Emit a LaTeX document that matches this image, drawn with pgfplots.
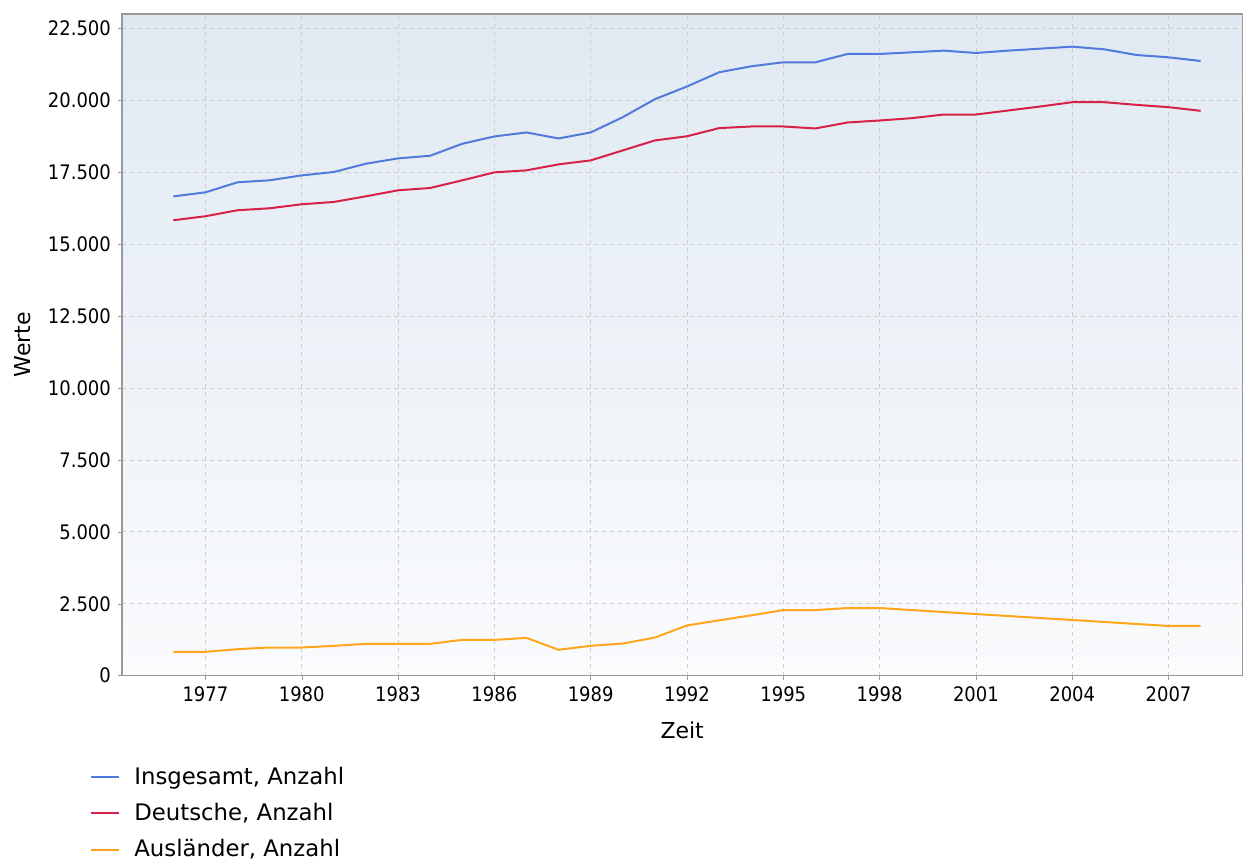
\documentclass[border=0pt]{standalone}
\usepackage{fontspec}
\setmainfont{DejaVu Sans}
\newfontfamily\tickfont{DejaVu Sans Condensed}
\usepackage{pgfplots}
\pgfplotsset{compat=1.18}
\definecolor{cblue}{RGB}{80,122,220}
\definecolor{cred}{RGB}{214,34,72}
\definecolor{corange}{RGB}{255,166,28}
\definecolor{bgtop}{RGB}{224,233,242}
\definecolor{bgbot}{RGB}{250,251,253}
\definecolor{gridc}{RGB}{205,205,205}
\begin{document}
\begin{tikzpicture}
\begin{axis}[
  scale only axis,
  width=560.5pt, height=331pt,
  xmin=1974.4, xmax=2009.3,
  ymin=0, ymax=23000,
  scaled ticks=false,
  xtick={1977,1980,...,2007},
  ytick={0,2500,...,22500},
  axis background/.style={top color=bgtop, bottom color=bgbot},
  grid=major,
  major grid style={gridc, dash pattern=on 2pt off 2pt, line width=0.4pt},
  axis line style={gray!80, line width=0.6pt},
  tick align=outside,
  major tick length=2pt,
  tick style={gray!80},
  xtick pos=bottom, ytick pos=left,
  /pgf/number format/assume math mode=true,
  xticklabel style={font=\tickfont\fontsize{10}{12}\selectfont, /pgf/number format/1000 sep={}},
  yticklabel style={font=\tickfont\fontsize{10}{12}\selectfont, /pgf/number format/1000 sep={.}},
  xlabel={Zeit}, ylabel={Werte},
  xlabel style={font=\fontsize{11}{13}\selectfont, at={(axis description cs:0.5,-0.082)}, anchor=center},
  ylabel style={font=\fontsize{11}{13}\selectfont, at={(axis description cs:-0.089,0.5)}, anchor=center, rotate=0},
  legend style={draw=none, fill=none, at={(axis description cs:-0.0285,-0.131)}, anchor=north west,
    font=\fontsize{11.4}{14}\selectfont, row sep=4pt, inner sep=0pt},
  legend cell align=left,
  legend image code/.code={\draw[#1] (0pt,0pt) -- (14pt,0pt); \path (19pt,0pt);},
  every axis plot/.append style={line width=1pt, mark=none},
]
\addplot[cblue] coordinates {
(1976,16660) (1977,16800) (1978,17150) (1979,17220) (1980,17390) (1981,17507)
(1982,17796) (1983,17981) (1984,18073) (1985,18489) (1986,18744) (1987,18882)
(1988,18674) (1989,18882) (1990,19414) (1991,20038) (1992,20480) (1993,20974)
(1994,21182) (1995,21321) (1996,21321) (1997,21610) (1998,21610) (1999,21668)
(2000,21726) (2001,21645) (2002,21726) (2003,21795) (2004,21864) (2005,21772)
(2006,21575) (2007,21494) (2008,21367)};
\addlegendentry{Insgesamt, Anzahl}
\addplot[cred] coordinates {
(1976,15831) (1977,15970) (1978,16178) (1979,16247) (1980,16386) (1981,16467)
(1982,16663) (1983,16871) (1984,16952) (1985,17218) (1986,17495) (1987,17565)
(1988,17773) (1989,17911) (1990,18258) (1991,18605) (1992,18750) (1993,19033)
(1994,19090) (1995,19090) (1996,19021) (1997,19229) (1998,19298) (1999,19379)
(2000,19506) (2001,19506) (2002,19645) (2003,19784) (2004,19934) (2005,19934)
(2006,19842) (2007,19761) (2008,19634)};
\addlegendentry{Deutsche, Anzahl}
\addplot[corange] coordinates {
(1976,829) (1977,829) (1978,922) (1979,979) (1980,979) (1981,1037)
(1982,1106) (1983,1106) (1984,1106) (1985,1244) (1986,1244) (1987,1313)
(1988,899) (1989,1037) (1990,1117) (1991,1325) (1992,1745) (1993,1924)
(1994,2097) (1995,2281) (1996,2281) (1997,2350) (1998,2350) (1999,2281)
(2000,2212) (2001,2143) (2002,2074) (2003,2004) (2004,1935) (2005,1866)
(2006,1797) (2007,1728) (2008,1728)};
\addlegendentry{Ausländer, Anzahl}
\end{axis}
\path (current axis.south west) ++(-61pt,-92.5pt) -- (current axis.north east) ++(0pt,7pt);
\end{tikzpicture}
\end{document}
